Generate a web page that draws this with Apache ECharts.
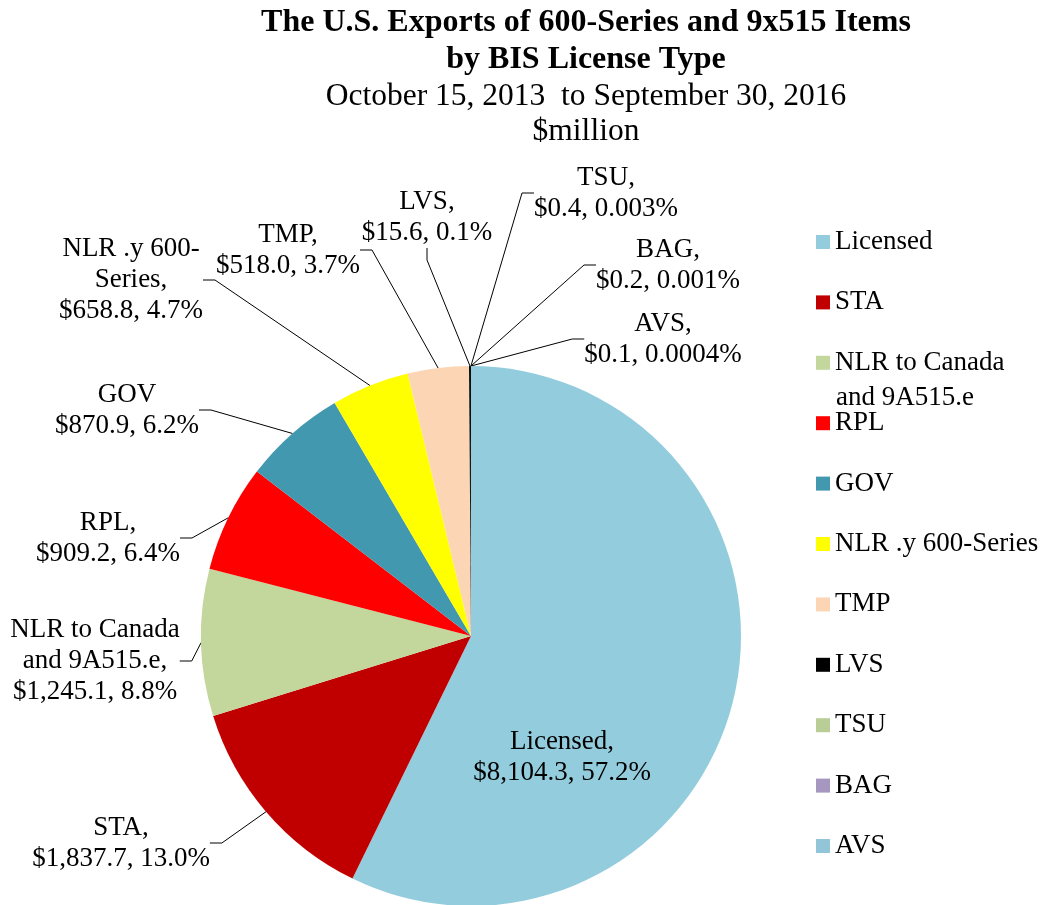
<!DOCTYPE html>
<html>
<head>
<meta charset="utf-8">
<title>BIS License Type</title>
<script src="https://cdn.jsdelivr.net/npm/echarts@6/dist/echarts.min.js"></script>
<style>
  html, body { margin: 0; padding: 0; background: #fff; }
  #chart { width: 1040px; height: 905px; }
</style>
</head>
<body>
<div id="chart"></div>
<script>
// license types, in slice order (clockwise from 12 o'clock)
const categories = ['Licensed', 'STA', 'NLR to Canada and 9A515.e', 'RPL', 'GOV',
  'NLR .y 600-Series', 'TMP', 'LVS', 'TSU', 'BAG', 'AVS']
// export value, $million
const values = [8104.3, 1837.7, 1245.1, 909.2, 870.9, 658.8, 518.0, 15.6, 0.4, 0.2, 0.1]
// label text as printed on the chart
const labelNames = ['Licensed,', 'STA,', 'NLR to Canada\nand 9A515.e,', 'RPL,', 'GOV',
  'NLR .y 600-\nSeries,', 'TMP,', 'LVS,', 'TSU,', 'BAG,', 'AVS,']
const pctLabels = ['57.2%', '13.0%', '8.8%', '6.4%', '6.2%', '4.7%', '3.7%', '0.1%', '0.003%', '0.001%', '0.0004%']
const colors = ['#93CDDD', '#C00000', '#C3D69B', '#FF0000', '#4198AF', '#FFFF00',
  '#FCD5B5', '#000000', '#B9CD96', '#A597C0', '#92C5D7']

// label block centres (layout only)
const labelPos = [
  [562, 757], [121, 843], [95, 661], [108, 538], [127, 410], [131, 280],
  [288, 250], [427, 217], [606, 193], [668, 265], [663, 339]
]

const serif = "'Liberation Serif', 'Times New Roman', serif"
const chart = echarts.init(document.getElementById('chart'))

const fmtMoney = v => '$' + v.toLocaleString('en-US', { minimumFractionDigits: 1, maximumFractionDigits: 1 })

const option = {
  backgroundColor: '#fff',
  color: colors,
  title: {
    text: 'The U.S. Exports of 600-Series and 9x515 Items\nby BIS License Type',
    subtext: 'October 15, 2013  to September 30, 2016\n$million',
    left: 586,
    top: 4,
    padding: 0,
    textAlign: 'center',
    itemGap: 1,
    textStyle: { fontFamily: serif, fontSize: 32, fontWeight: 'bold', color: '#000', lineHeight: 37 },
    subtextStyle: { fontFamily: serif, fontSize: 31.5, color: '#000', lineHeight: 35 }
  },
  legend: {
    orient: 'vertical',
    left: 816,
    top: 228.5,
    padding: 0,
    itemWidth: 14,
    itemHeight: 14,
    itemGap: 33.4,
    icon: 'rect',
    selectedMode: false,
    data: categories,
    formatter: name => name === 'NLR to Canada and 9A515.e' ? 'NLR to Canada' : name,
    textStyle: { fontFamily: serif, fontSize: 27, color: '#000', lineHeight: 27 }
  },
  graphic: [
    {
      type: 'text',
      left: 836,
      top: 384,
      style: { text: 'and 9A515.e', font: '27px ' + serif, fill: '#000' }
    }
  ],
  series: [
    {
      type: 'pie',
      center: [471, 636],
      radius: 270,
      startAngle: 90,
      clockwise: true,
      avoidLabelOverlap: false,
      animation: false,
      itemStyle: { borderWidth: 0 },
      label: {
        show: true,
        position: 'outside',
        fontFamily: serif,
        fontSize: 27,
        lineHeight: 31,
        color: '#000',
        align: 'center',
        formatter: p => labelNames[p.dataIndex] + '\n' + fmtMoney(p.value) + ', ' + pctLabels[p.dataIndex]
      },
      labelLine: {
        show: true,
        length: 10,
        length2: 12,
        lineStyle: { color: '#000', width: 1 }
      },
      labelLayout: params => {
        const p = labelPos[params.dataIndex]
        return { x: p[0], y: p[1], align: 'center', verticalAlign: 'middle' }
      },
      data: categories.map((name, i) => {
        const item = { name: name, value: values[i] }
        if (i === 0) {
          item.label = { position: 'inside' }
          item.labelLine = { show: false }
        }
        return item
      })
    }
  ]
}

chart.setOption(option)
</script>
</body>
</html>
